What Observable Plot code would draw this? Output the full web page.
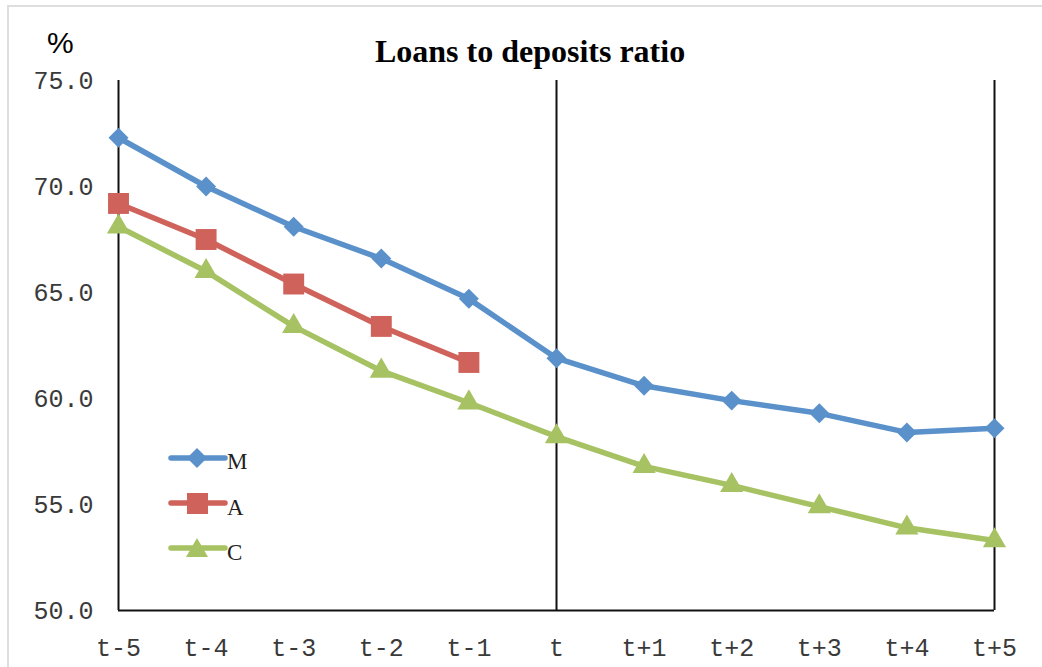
<!DOCTYPE html>
<html>
<head>
<meta charset="utf-8">
<script src="https://cdn.jsdelivr.net/npm/d3@7"></script>
<script src="https://cdn.jsdelivr.net/npm/@observablehq/plot@0.6"></script>
<style>
  body { margin: 0; background: #fff; }
  #wrap { position: relative; width: 1042px; height: 667px; overflow: hidden; background: #fff; }
  #frame { position: absolute; left: 7px; top: 5px; width: 1200px; height: 800px;
           border-left: 2px solid #dedede; border-top: 2px solid #dedede; pointer-events: none; }
  #chart { position: absolute; left: 0; top: 0; }
  #title { position: absolute; left: 530px; top: 35px; transform: translateX(-50%); white-space: nowrap;
           font: bold 32px/32px "Liberation Serif", "Times New Roman", serif; color: #000; }
  #unit { position: absolute; left: 47px; top: 28px;
          font: 30px/30px "Liberation Sans", Arial, sans-serif; color: #000; }
  .legend-row { position: absolute; left: 160px; height: 30px; }
  .legend-row svg { position: absolute; left: 0; top: 0; overflow: visible; }
  .legend-row span { position: absolute; left: 67px;
                     font: 23px/23px "Liberation Serif", "Times New Roman", serif; color: #222; }
</style>
</head>
<body>
<div id="wrap">
  <div id="chart"></div>
  <div id="frame"></div>
  <div id="title">Loans to deposits ratio</div>
  <div id="unit">%</div>
  <div id="legend"></div>
</div>
<script>
// Periods around the reference year t
const periods = ["t-5", "t-4", "t-3", "t-2", "t-1", "t", "t+1", "t+2", "t+3", "t+4", "t+5"];

// Loans to deposits ratio, in percent
const mValues = [72.3, 70.0, 68.1, 66.6, 64.7, 61.9, 60.6, 59.9, 59.3, 58.4, 58.6];
const aValues = [69.2, 67.5, 65.4, 63.4, 61.7];
const cValues = [68.1, 66.0, 63.4, 61.3, 59.8, 58.2, 56.8, 55.9, 54.9, 53.9, 53.3];

const seriesNames = ["M", "A", "C"];
const seriesColors = ["#5A91CA", "#CF625A", "#A6C262"];
const yTicks = [50, 55, 60, 65, 70, 75];
const dividers = ["t-5", "t", "t+5"];

const seriesValues = { M: mValues, A: aValues, C: cValues };
const rows = seriesNames.flatMap(name =>
  seriesValues[name].map((value, i) => ({ series: name, period: periods[i], value }))
);

const symbols = { M: "diamond2", A: "square", C: "triangle" };
const radii = { M: 9, A: 11.8, C: 8.6 };

const chart = Plot.plot({
  width: 1042,
  height: 667,
  marginLeft: 118,
  marginRight: 48,
  marginTop: 80,
  marginBottom: 57,
  style: {
    fontFamily: '"Courier New", "Liberation Mono", monospace',
    fontSize: "25px",
    color: "#3a3a3a",
    background: "transparent"
  },
  x: { type: "point", domain: periods, padding: 0, round: false },
  y: { domain: [50, 75] },
  color: { domain: seriesNames, range: seriesColors },
  symbol: { type: "identity" },
  marks: [
    Plot.ruleX(dividers, { y1: 50, y2: 75, stroke: "#111", strokeWidth: 2 }),
    Plot.ruleY([50], { stroke: "#111", strokeWidth: 2 }),
    Plot.axisX({ tickSize: 0, tickPadding: 28, fontSize: 25, label: null }),
    Plot.axisY({ ticks: yTicks, tickSize: 0, tickPadding: 25, fontSize: 25,
                 tickFormat: d => d.toFixed(1), label: null }),
    Plot.line(rows, { x: "period", y: "value", z: "series", stroke: "series",
                      strokeWidth: 5.5, strokeLinejoin: "round", strokeLinecap: "round" }),
    ...seriesNames.map(name =>
      Plot.dot(rows.filter(d => d.series === name), {
        x: "period", y: "value", fill: "series",
        symbol: () => symbols[name], r: radii[name], stroke: "none"
      })
    )
  ]
});
document.getElementById("chart").append(chart);

// Legend: line with marker, then the series name
const legendTops = [444, 489, 534];
const legend = document.getElementById("legend");
seriesNames.forEach((name, i) => {
  const row = document.createElement("div");
  row.className = "legend-row";
  row.style.top = legendTops[i] + "px";
  const color = seriesColors[i];
  let marker;
  if (name === "M") marker = `<path d="M37,4 L47,14 L37,24 L27,14 Z" fill="${color}"/>`;
  else if (name === "A") marker = `<rect x="27" y="4" width="21" height="21" fill="${color}"/>`;
  else marker = `<path d="M37,4 L48,23 L26,23 Z" fill="${color}"/>`;
  row.innerHTML =
    `<svg width="70" height="30"><line x1="11" x2="65" y1="14" y2="14" stroke="${color}" stroke-width="5.5" stroke-linecap="round"/>${marker}</svg>` +
    `<span style="top:${[6, 7, 7][i]}px">${name}</span>`;
  legend.append(row);
});
</script>
</body>
</html>
